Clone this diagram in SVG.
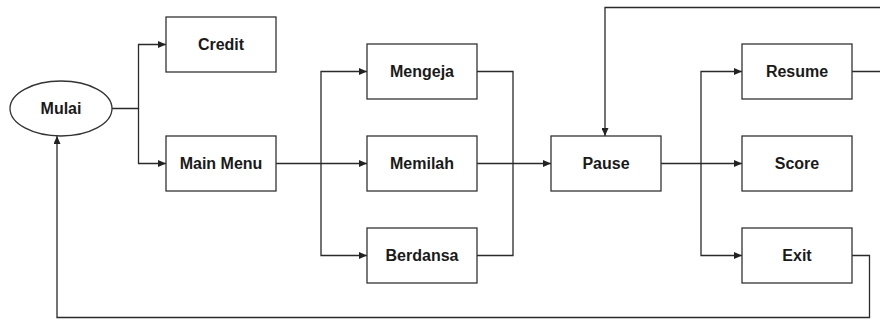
<svg xmlns="http://www.w3.org/2000/svg" width="880" height="320" viewBox="0 0 880 320">
  <defs>
    <marker id="arrow" markerWidth="8" markerHeight="7" refX="8" refY="3.5" orient="auto" markerUnits="userSpaceOnUse">
      <path d="M0,0 L8,3.5 L0,7 z" fill="#222"/>
    </marker>
    <style>
      .box { fill: #ffffff; stroke: #333333; stroke-width: 1.3; }
      .lbl { font-family: "Liberation Sans", Arial, sans-serif; font-weight: bold; font-size: 16px; fill: #1a1a1a; text-anchor: middle; dominant-baseline: central; }
      .conn { fill: none; stroke: #2a2a2a; stroke-width: 1.3; }
      .arr { marker-end: url(#arrow); }
    </style>
  </defs>
  <rect width="880" height="320" fill="#ffffff"/>

  <g id="connectors">
    <path class="conn arr" d="M112 108.5 H138.5 V44.5 H166"/>
    <path class="conn arr" d="M138.5 108.5 V163.5 H166"/>
    <path class="conn arr" d="M276 163.5 H321 V71.5 H367"/>
    <path class="conn arr" d="M321 163.5 H367"/>
    <path class="conn arr" d="M321 163.5 V255.5 H367"/>
    <path class="conn" d="M477 71.5 H513 V255.5 H477"/>
    <path class="conn arr" d="M477 163.5 H551"/>
    <path class="conn arr" d="M661 163.5 H701 V71.5 H742"/>
    <path class="conn arr" d="M701 163.5 H742"/>
    <path class="conn arr" d="M701 163.5 V255.5 H742"/>
    <path class="conn arr" d="M852 71.5 H886 V7.5 H605 V136"/>
    <path class="conn arr" d="M852 255.5 H869.5 V317.5 H57 V136"/>
  </g>

  <g id="mulai">
    <ellipse class="box" cx="61" cy="108.5" rx="51" ry="27.5"/>
    <text class="lbl" x="61" y="108.5">Mulai</text>
  </g>
  <g id="credit">
    <rect class="box" x="166" y="17" width="110" height="55"/>
    <text class="lbl" x="221" y="44.5">Credit</text>
  </g>
  <g id="main-menu">
    <rect class="box" x="166" y="136" width="110" height="55"/>
    <text class="lbl" x="221" y="163.5">Main Menu</text>
  </g>
  <g id="mengeja">
    <rect class="box" x="367" y="44" width="110" height="55"/>
    <text class="lbl" x="422" y="71.5">Mengeja</text>
  </g>
  <g id="memilah">
    <rect class="box" x="367" y="136" width="110" height="55"/>
    <text class="lbl" x="422" y="163.5">Memilah</text>
  </g>
  <g id="berdansa">
    <rect class="box" x="367" y="228" width="110" height="55"/>
    <text class="lbl" x="422" y="255.5">Berdansa</text>
  </g>
  <g id="pause">
    <rect class="box" x="551" y="136" width="110" height="55"/>
    <text class="lbl" x="606" y="163.5">Pause</text>
  </g>
  <g id="resume">
    <rect class="box" x="742" y="44" width="110" height="55"/>
    <text class="lbl" x="797" y="71.5">Resume</text>
  </g>
  <g id="score">
    <rect class="box" x="742" y="136" width="110" height="55"/>
    <text class="lbl" x="797" y="163.5">Score</text>
  </g>
  <g id="exit">
    <rect class="box" x="742" y="228" width="110" height="55"/>
    <text class="lbl" x="797" y="255.5">Exit</text>
  </g>
</svg>
